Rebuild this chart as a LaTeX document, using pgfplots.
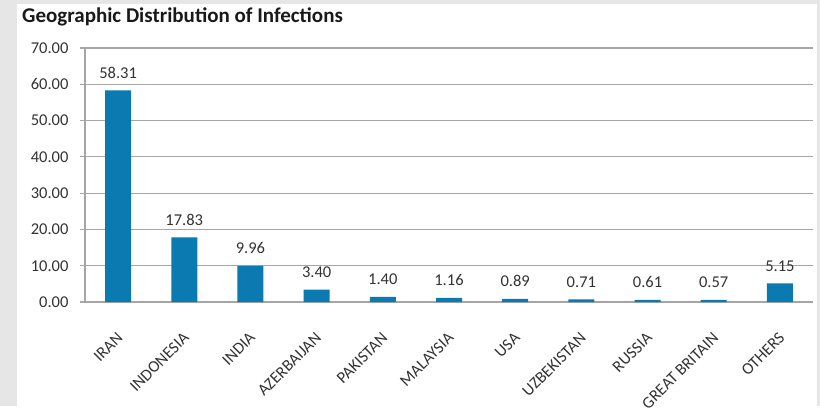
\documentclass[border=0pt]{standalone}
\usepackage{pgfplots}
\pgfplotsset{compat=1.18}
\usepackage{fontspec}
\setmainfont{Carlito}
\definecolor{barblue}{HTML}{0A7AB0}
\definecolor{framegray}{HTML}{E6E6E6}
\definecolor{gridgray}{HTML}{A6A6A6}
\definecolor{txt}{HTML}{333333}
\begin{document}
\begin{tikzpicture}[x=1pt,y=1pt]
\fill[framegray] (0,0) rectangle (820,406);
\fill[white] (17,0) rectangle (817,402);
\node[anchor=base west, inner sep=0pt, font=\fontsize{21}{24}\selectfont\bfseries, text=black!90] at (22,383) {Geographic Distribution of Infections};
\begin{axis}[
  at={(85pt,104pt)}, anchor=south west,
  scale only axis, width=728pt, height=254pt,
  xmin=-0.5, xmax=10.5, ymin=0, ymax=70,
  ytick={0,10,...,70},
  ymajorgrids, grid style={gridgray, line width=1.2pt},
  axis x line*=bottom, axis y line*=left,
  axis line style={gridgray, line width=1.2pt},
  tick style={gridgray, line width=1.2pt},
  tick align=outside,
  major tick length=5pt,
  xtick={0,...,10},
  x tick style={draw=none},
  minor xtick={-0.5,0.5,...,10.5},
  minor tick length=6pt,
  xticklabels={IRAN,INDONESIA,INDIA,AZERBAIJAN,PAKISTAN,MALAYSIA,USA,UZBEKISTAN,RUSSIA,GREAT BRITAIN,OTHERS},
  xticklabel style={xshift=-2pt, yshift=-19.5pt, rotate=45, anchor=north east, font=\fontsize{16.5}{18}\selectfont, text=txt},
  yticklabel style={xshift=-8pt, font=\fontsize{16.5}{18}\selectfont, text=txt},
  /pgf/number format/.cd, fixed, fixed zerofill, precision=2, assume math mode=true,
  /pgfplots/.cd,
  ybar, bar width=26pt,
  nodes near coords,
  nodes near coords style={font=\fontsize{16.5}{18}\selectfont, text=txt, anchor=south, yshift=8.5pt,
    /pgf/number format/.cd, fixed, fixed zerofill, precision=2, assume math mode=true},
  clip=false,
]
\addplot[fill=barblue, draw=none] coordinates {
(0,58.31) (1,17.83) (2,9.96) (3,3.40) (4,1.40) (5,1.16) (6,0.89) (7,0.71) (8,0.61) (9,0.57) (10,5.15)};
\end{axis}
\end{tikzpicture}
\end{document}
